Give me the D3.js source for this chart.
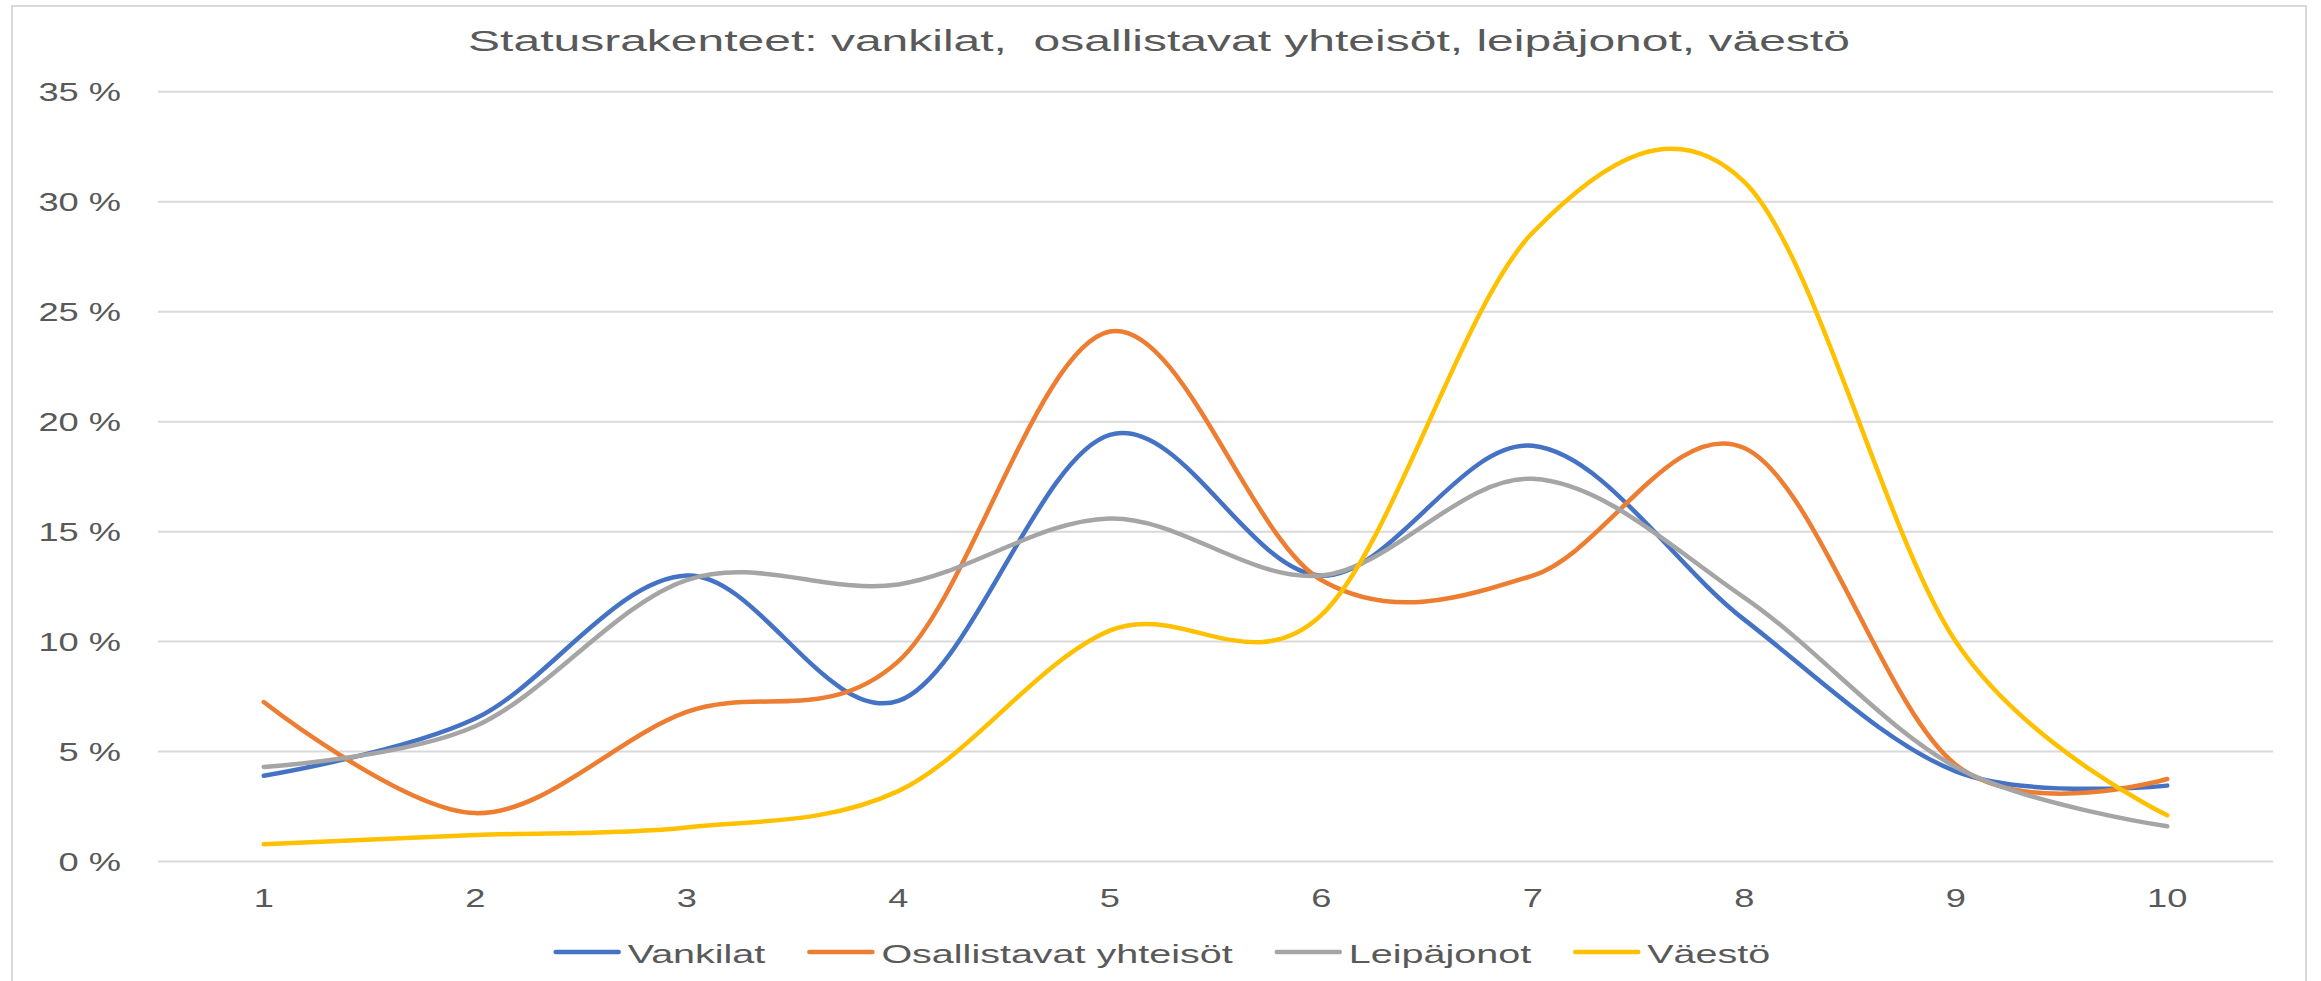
<!DOCTYPE html>
<html>
<head>
<meta charset="utf-8">
<script src="https://cdn.jsdelivr.net/npm/d3@7"></script>
<style>
  body { margin: 0; background: #fff; }
  text { font-family: "Liberation Sans", Arial, sans-serif; fill: #595959; white-space: pre; }
</style>
</head>
<body>
<svg id="chart"></svg>
<script>
const categories = ["1", "2", "3", "4", "5", "6", "7", "8", "9", "10"];
const yTicks = [0, 5, 10, 15, 20, 25, 30, 35];

const vankilat = [3.9, 6.5, 13.0, 7.3, 19.4, 13.0, 18.9, 11.0, 4.1, 3.45];
const osallistavat = [7.25, 2.2, 6.8, 9.1, 24.1, 12.8, 13.0, 18.8, 4.4, 3.75];
const leipajonot = [4.3, 6.15, 12.8, 12.6, 15.6, 13.0, 17.4, 12.0, 4.3, 1.6];
const vaesto = [0.78, 1.2, 1.55, 3.2, 10.5, 11.2, 28.6, 30.9, 10.0, 2.1];

const seriesNames = ["Vankilat", "Osallistavat yhteisöt", "Leipäjonot", "Väestö"];
const seriesColors = ["#4472C4", "#ED7D31", "#A5A5A5", "#FFC000"];
const seriesValues = [vankilat, osallistavat, leipajonot, vaesto];

const title = "Statusrakenteet: vankilat,  osallistavat yhteisöt, leipäjonot, väestö";

const width = 2321, height = 981;
const SX = 1.45; // the source chart is stretched sideways

const svg = d3.select("#chart").attr("width", width).attr("height", height);

svg.append("rect")
  .attr("x", 12).attr("y", 6)
  .attr("width", 2294).attr("height", 990)
  .attr("fill", "#fff")
  .attr("stroke", "#d9d9d9")
  .attr("stroke-width", 2);

const x = d3.scalePoint().domain(categories).range([158, 2273]).padding(0.5);
const y = d3.scaleLinear().domain([0, 35]).range([861.5, 91.8]);

// stretched text helper
const stretchText = (g, tx, ty, str, size, anchor, sx = SX) => {
  return g.append("text")
    .attr("transform", `translate(${tx},${ty}) scale(${sx},1)`)
    .attr("text-anchor", anchor)
    .attr("dominant-baseline", "central")
    .attr("font-size", size)
    .text(str);
};

// gridlines
svg.append("g")
  .selectAll("line")
  .data(yTicks)
  .join("line")
  .attr("x1", 158).attr("x2", 2273)
  .attr("y1", (d) => y(d)).attr("y2", (d) => y(d))
  .attr("stroke", "#d9d9d9")
  .attr("stroke-width", 2);

// y labels
const yLab = svg.append("g");
yTicks.forEach((t) => stretchText(yLab, 121, y(t) + 1, t + " %", 25, "end"));

// x labels
const xLab = svg.append("g");
categories.forEach((c) => stretchText(xLab, x(c), 899, c, 25, "middle"));

// title
stretchText(svg.append("g"), 1159, 41, title, 30, "middle", 1.6);

// lines
const line = d3.line()
  .x((d, i) => x(categories[i]))
  .y((d) => y(d))
  .curve(d3.curveCardinal.tension(0));

svg.append("g")
  .selectAll("path")
  .data(seriesValues)
  .join("path")
  .attr("d", (d) => line(d))
  .attr("fill", "none")
  .attr("stroke", (d, i) => seriesColors[i])
  .attr("stroke-width", 4.5)
  .attr("stroke-linecap", "round")
  .attr("stroke-linejoin", "round");

// legend
const legend = svg.append("g");
const legY = 953;
const legSX = 1.52;
const sampleW = 63, sampleGap = 9, itemGap = 44;
let items = seriesNames.map((name, i) => {
  const t = legend.append("text")
    .attr("font-size", 26)
    .attr("dominant-baseline", "central")
    .text(name);
  const w = t.node().getComputedTextLength() * legSX;
  return { name, t, w, color: seriesColors[i] };
});
const total = d3.sum(items, (d) => sampleW + sampleGap + d.w) + itemGap * (items.length - 1);
let cx = 1163 - total / 2;
items.forEach((it) => {
  legend.append("line")
    .attr("x1", cx).attr("x2", cx + sampleW)
    .attr("y1", legY - 1).attr("y2", legY - 1)
    .attr("stroke", it.color)
    .attr("stroke-width", 4.5)
    .attr("stroke-linecap", "round");
  it.t.attr("transform", `translate(${cx + sampleW + sampleGap},${legY + 1}) scale(${legSX},1)`);
  cx += sampleW + sampleGap + it.w + itemGap;
});
</script>
</body>
</html>
